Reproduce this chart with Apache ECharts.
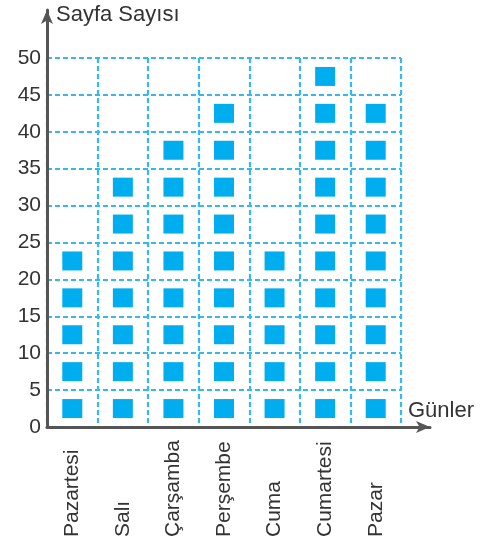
<!DOCTYPE html>
<html><head><meta charset="utf-8">
<script src="https://cdn.jsdelivr.net/npm/echarts@6/dist/echarts.min.js"></script>
<style>html,body{margin:0;padding:0;background:#fff}#c{width:497px;height:548px}</style>
</head><body><div id="c"></div>
<script>
const days = ['Pazartesi','Salı','Çarşamba','Perşembe','Cuma','Cumartesi','Pazar'];
const pages = [25, 35, 40, 45, 25, 50, 45];
const unit = 5; // each square = 5 pages
const yTicks = [0,5,10,15,20,25,30,35,40,45,50];

const squares = [];
days.forEach((d, i) => {
  for (let k = 0; k < pages[i] / unit; k++) squares.push([i, k * unit + unit / 2]);
});

const FONT = '"Liberation Sans", Arial, sans-serif';
const gridLine = { show: true, lineStyle: { color: '#35B8EE', width: 2.2, type: [5, 3] } };
const chart = echarts.init(document.getElementById('c'), null, { renderer: 'canvas' });
chart.setOption({
  animation: false,
  title: [
    { text: 'Sayfa Sayısı', left: 56, top: 4, padding: 0,
      textStyle: { fontFamily: FONT, fontSize: 22, fontWeight: 'normal', color: '#333' } },
    { text: 'Günler', left: 408, top: 400, padding: 0,
      textStyle: { fontFamily: FONT, fontSize: 22, fontWeight: 'normal', color: '#333' } }
  ],
  grid: [
    { left: 47, right: 96, top: 58, bottom: 121 },
    { left: 47, right: 67, top: 10, bottom: 121 }
  ],
  xAxis: [
    { gridIndex: 0, type: 'category', data: days, boundaryGap: true,
      axisLine: { show: false }, axisTick: { show: false },
      splitLine: gridLine,
      axisLabel: { interval: 0, rotate: 90, align: 'left', verticalAlign: 'middle', margin: 110,
        padding: [0, 0, 12, 0],
        fontFamily: FONT, fontSize: 21, color: '#333' } },
    { gridIndex: 1, type: 'value', min: 0, max: 1, z: 10,
      axisLine: { show: true, symbol: ['none', 'arrow'], symbolSize: [9, 14],
        lineStyle: { color: '#555', width: 3 } },
      axisTick: { show: false }, axisLabel: { show: false }, splitLine: { show: false } }
  ],
  yAxis: [
    { gridIndex: 0, type: 'value', min: yTicks[0], max: yTicks[yTicks.length - 1], interval: unit,
      axisLine: { show: false }, axisTick: { show: false },
      splitLine: gridLine,
      axisLabel: { margin: 6, fontFamily: FONT, fontSize: 21, color: '#333' } },
    { gridIndex: 1, type: 'value', min: 0, max: 1, z: 10,
      axisLine: { show: true, symbol: ['none', 'arrow'], symbolSize: [9, 14],
        lineStyle: { color: '#555', width: 3 } },
      axisTick: { show: false }, axisLabel: { show: false }, splitLine: { show: false } }
  ],
  series: [
    { type: 'scatter', xAxisIndex: 0, yAxisIndex: 0, data: squares,
      symbol: 'rect', symbolSize: [20, 19],
      itemStyle: { color: '#00AEEF', opacity: 1 } }
  ]
});
</script></body></html>
